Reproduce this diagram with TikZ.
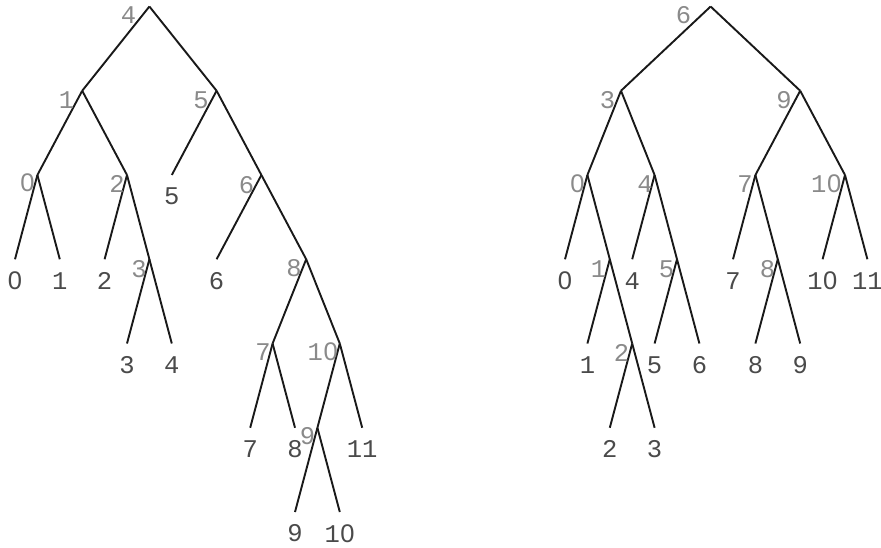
\documentclass[tikz,border=0pt]{standalone}
\usepackage{fontspec}
\newfontfamily\labfont{Liberation Mono}
\newfontfamily\zerofont{Liberation Sans}
\newcommand{\zr}{\makebox[0.6em]{\zerofont 0}}
\definecolor{intgray}{HTML}{8A8A8A}
\definecolor{leafgray}{HTML}{4A4A4A}
\tikzset{
  edge/.style={line width=1.9pt, black!90},
  intlab/.style={font=\labfont\fontsize{25.5}{25.5}\selectfont, text=intgray, inner sep=0pt, anchor=center},
  leaflab/.style={font=\labfont\fontsize{25.5}{25.5}\selectfont, text=leafgray, inner sep=0pt, anchor=center},
}
\newcommand{\vL}[3]{\coordinate (#1) at ({15+11.2*#2},{6.5+84.25*#3});}
\newcommand{\vR}[3]{\coordinate (#1) at ({565+11.2*#2},{6.5+84.25*#3});}
\begin{document}
\begin{tikzpicture}[x=1pt,y=-1pt]
\useasboundingbox (0,0) rectangle (881,547);
% ---------- left tree vertices
\vL{La4}{12}{0} \vL{La1}{6}{1} \vL{La5}{18}{1}
\vL{La0}{2}{2} \vL{La2}{10}{2} \vL{Ll5}{14}{2} \vL{La6}{22}{2}
\vL{Ll0}{0}{3} \vL{Ll1}{4}{3} \vL{Ll2}{8}{3} \vL{La3}{12}{3} \vL{Ll6}{18}{3} \vL{La8}{26}{3}
\vL{Ll3}{10}{4} \vL{Ll4}{14}{4} \vL{La7}{23}{4} \vL{La10}{29}{4}
\vL{Ll7}{21}{5} \vL{Ll8}{25}{5} \vL{La9}{27}{5} \vL{Ll11}{31}{5}
\vL{Ll9}{25}{6} \vL{Ll10}{29}{6}
% ---------- right tree vertices
\vR{Ra6}{13}{0} \vR{Ra3}{5}{1} \vR{Ra9}{21}{1}
\vR{Ra0}{2}{2} \vR{Ra4}{8}{2} \vR{Ra7}{17}{2} \vR{Ra10}{25}{2}
\vR{Rl0}{0}{3} \vR{Ra1}{4}{3} \vR{Rl4}{6}{3} \vR{Ra5}{10}{3} \vR{Rl7}{15}{3} \vR{Ra8}{19}{3} \vR{Rl10}{23}{3} \vR{Rl11}{27}{3}
\vR{Rl1}{2}{4} \vR{Ra2}{6}{4} \vR{Rl5}{8}{4} \vR{Rl6}{12}{4} \vR{Rl8}{17}{4} \vR{Rl9}{21}{4}
\vR{Rl2}{4}{5} \vR{Rl3}{8}{5}
% ---------- left tree edges
\foreach \p/\c in {La4/La1,La4/La5,La1/La0,La1/La2,La0/Ll0,La0/Ll1,La2/Ll2,La2/La3,La3/Ll3,La3/Ll4,
  La5/Ll5,La5/La6,La6/Ll6,La6/La8,La8/La7,La8/La10,La7/Ll7,La7/Ll8,La10/La9,La10/Ll11,La9/Ll9,La9/Ll10}
  \draw[edge] (\p) -- (\c);
% ---------- right tree edges
\foreach \p/\c in {Ra6/Ra3,Ra6/Ra9,Ra3/Ra0,Ra3/Ra4,Ra0/Rl0,Ra0/Ra1,Ra1/Rl1,Ra1/Ra2,Ra2/Rl2,Ra2/Rl3,
  Ra4/Rl4,Ra4/Ra5,Ra5/Rl5,Ra5/Rl6,Ra9/Ra7,Ra9/Ra10,Ra7/Rl7,Ra7/Ra8,Ra8/Rl8,Ra8/Rl9,Ra10/Rl10,Ra10/Rl11}
  \draw[edge] (\p) -- (\c);
% ---------- left internal labels
\node[intlab] (tLa4) at (128.5,15.5) {4};
\node[intlab] (tLa1) at (66.5,100.5) {1};
\node[intlab] (tLa5) at (201,100.5) {5};
\node[intlab] (tLa0) at (27.5,183) {\zr};
\node[intlab] (tLa2) at (117,183.5) {2};
\node[intlab] (tLa6) at (246.5,185) {6};
\node[intlab] (tLa3) at (139,269.5) {3};
\node[intlab] (tLa8) at (294,268) {8};
\node[intlab] (tLa7) at (263,352) {7};
\node[intlab] (tLa10) at (323,352) {1\zr};
\node[intlab] (tLa9) at (307.5,436) {9};
% ---------- right internal labels
\node[intlab] (tRa6) at (683.5,15.5) {6};
\node[intlab] (tRa3) at (607.5,100.5) {3};
\node[intlab] (tRa9) at (784,100.5) {9};
\node[intlab] (tRa0) at (577.5,184) {\zr};
\node[intlab] (tRa4) at (645,184) {4};
\node[intlab] (tRa7) at (745,184) {7};
\node[intlab] (tRa10) at (826.5,184) {1\zr};
\node[intlab] (tRa1) at (598.5,269) {1};
\node[intlab] (tRa5) at (666.5,269) {5};
\node[intlab] (tRa8) at (767.5,269) {8};
\node[intlab] (tRa2) at (621.5,352.5) {2};
% ---------- leaf labels
\foreach \v/\t in {Ll0/\zr,Ll1/1,Ll2/2,Ll3/3,Ll4/4,Ll5/5,Ll6/6,Ll7/7,Ll8/8,Ll9/9,Ll10/1\zr,Ll11/11,
  Rl0/\zr,Rl1/1,Rl2/2,Rl3/3,Rl4/4,Rl5/5,Rl6/6,Rl7/7,Rl8/8,Rl9/9,Rl10/1\zr,Rl11/11}
  \node[leaflab] (t\v) at ([yshift=-21.5pt]\v) {\t};
\end{tikzpicture}
\end{document}
